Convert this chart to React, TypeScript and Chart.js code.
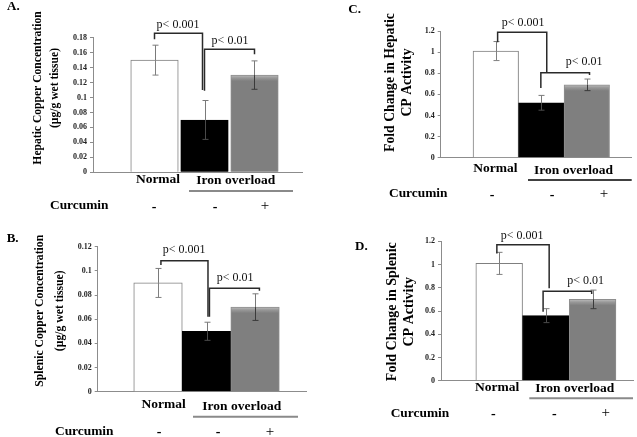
import { useEffect, useRef } from 'react';
import { Chart, registerables } from 'chart.js';

Chart.register(...registerables);

const W = 637;
const H = 437;
const SERIF = '"Liberation Serif", "Times New Roman", serif';

// x positions of the three groups: Normal, Iron overload (curcumin -), Iron overload (curcumin +)
const groupX = [1, 2, 3];
const groupNames = ['Normal', 'Iron overload'];
const curcuminSigns = ['-', '-', '+'];

// A. Hepatic copper concentration (µg/g wet tissue)
const hepaticCopper = [0.15, 0.07, 0.13];
const hepaticCopperErr = [0.02, 0.026, 0.019];
// B. Splenic copper concentration (µg/g wet tissue)
const splenicCopper = [0.09, 0.05, 0.07];
const splenicCopperErr = [0.012, 0.0075, 0.011];
// C. Fold change in hepatic CP activity
const hepaticCP = [1.01, 0.52, 0.69];
const hepaticCPErr = [0.09, 0.07, 0.055];
// D. Fold change in splenic CP activity
const splenicCP = [1.01, 0.56, 0.7];
const splenicCPErr = [0.095, 0.06, 0.08];

type Bracket = {
  from: number; to: number; y: number; yFrom: number; yTo: number;
  label: string; labelX: number; labelY: number;
};

const bracketsA: Bracket[] = [
  { from: 1, to: 1.96, y: 0.186, yFrom: 0.178, yTo: 0.11, label: 'p< 0.001', labelX: 1.47, labelY: 0.197 },
  { from: 2, to: 3, y: 0.1644, yFrom: 0.109, yTo: 0.158, label: 'p< 0.01', labelX: 2.51, labelY: 0.176 },
];
const bracketsB: Bracket[] = [
  { from: 1.06, to: 2.03, y: 0.1084, yFrom: 0.1049, yTo: 0.0621, label: 'p< 0.001', labelX: 1.54, labelY: 0.1173 },
  { from: 2.06, to: 3.09, y: 0.0856, yFrom: 0.0621, yTo: 0.0836, label: 'p< 0.01', labelX: 2.59, labelY: 0.0941 },
];
const bracketsC: Bracket[] = [
  { from: 1.04, to: 2.12, y: 1.1875, yFrom: 1.093, yTo: 0.805, label: 'p< 0.001', labelX: 1.6, labelY: 1.278 },
  { from: 1.99, to: 3.06, y: 0.805, yFrom: 0.66, yTo: 0.783, label: 'p< 0.01', labelX: 2.94, labelY: 0.909 },
];
const bracketsD: Bracket[] = [
  { from: 0.95, to: 2.07, y: 1.17, yFrom: 1.096, yTo: 0.795, label: 'p< 0.001', labelX: 1.49, labelY: 1.248 },
  { from: 1.94, to: 2.98, y: 0.769, yFrom: 0.594, yTo: 0.746, label: 'p< 0.01', labelX: 2.85, labelY: 0.861 },
];

type PanelCfg = {
  key: string;
  values: number[];
  errors: number[];
  brackets: Bracket[];
  yMax: number; yStep: number; xMin: number; xMax: number;
  area: { left: number; top: number; right: number; bottom: number };
  title: string[]; titleX: number[]; titleY: number; titleSize: number;
  letter: { x: number; y: number };
  normal: { x: number; y: number };
  iron: { x: number; y: number };
  underline: { x1: number; x2: number; y: number; color: string; w: number };
  curcumin: { x: number; y: number };
  signX: number[];
};

const panels: PanelCfg[] = [
  {
    key: 'A', values: hepaticCopper, errors: hepaticCopperErr, brackets: bracketsA,
    yMax: 0.18, yStep: 0.02, xMin: -0.23, xMax: 3.95,
    area: { left: 93, top: 37.7, right: 302, bottom: 172.3 },
    title: ['Hepatic Copper Concentration', '(µg/g wet tissue)'], titleX: [38, 55], titleY: 88, titleSize: 11.6,
    letter: { x: 7, y: 7 },
    normal: { x: 158, y: 180 }, iron: { x: 235.8, y: 181 },
    underline: { x1: 189, x2: 293, y: 191, color: '#8a8a8a', w: 2 },
    curcumin: { x: 50, y: 206 }, signX: [154, 215, 265],
  },
  {
    key: 'B', values: splenicCopper, errors: splenicCopperErr, brackets: bracketsB,
    yMax: 0.12, yStep: 0.02, xMin: -0.243, xMax: 4.05,
    area: { left: 97.7, top: 246.7, right: 306, bottom: 391.7 },
    title: ['Splenic Copper Concentration', '(µg/g wet tissue)'], titleX: [40, 60], titleY: 310.8, titleSize: 11.7,
    letter: { x: 6.7, y: 239 },
    normal: { x: 163.7, y: 405 }, iron: { x: 241.8, y: 406.7 },
    underline: { x1: 193, x2: 298, y: 416.7, color: '#8a8a8a', w: 2 },
    curcumin: { x: 55, y: 431.7 }, signX: [159, 218, 270],
  },
  {
    key: 'C', values: hepaticCP, errors: hepaticCPErr, brackets: bracketsC,
    yMax: 1.2, yStep: 0.2, xMin: -0.211, xMax: 3.987,
    area: { left: 440.7, top: 31, right: 631.7, bottom: 157.7 },
    title: ['Fold Change in Hepatic', 'CP Activity'], titleX: [390.7, 407.7], titleY: 82.5, titleSize: 13.7,
    letter: { x: 348.3, y: 10 },
    normal: { x: 495.3, y: 169 }, iron: { x: 573.5, y: 170.5 },
    underline: { x1: 528, x2: 631.7, y: 180, color: '#000000', w: 1.5 },
    curcumin: { x: 389, y: 194 }, signX: [492, 552, 604],
  },
  {
    key: 'D', values: splenicCP, errors: splenicCPErr, brackets: bracketsD,
    yMax: 1.2, yStep: 0.2, xMin: -0.246, xMax: 3.865,
    area: { left: 441, top: 241.3, right: 633, bottom: 380.7 },
    title: ['Fold Change in Splenic', 'CP Activity'], titleX: [392.7, 409], titleY: 311.7, titleSize: 14,
    letter: { x: 355, y: 246.7 },
    normal: { x: 497.2, y: 387.7 }, iron: { x: 574.7, y: 389 },
    underline: { x1: 529.3, x2: 633, y: 398.3, color: '#8a8a8a', w: 2 },
    curcumin: { x: 390.7, y: 413.3 }, signX: [493.3, 554.3, 605.7],
  },
];

const insideErrColor = ['#808080', '#4a4a4a', '#3a3a3a'];

function makeOverlay(p: PanelCfg) {
  return {
    id: 'overlay' + p.key,
    afterDraw(chart: any) {
      const ctx: CanvasRenderingContext2D = chart.ctx;
      const xs = chart.scales.x;
      const ys = chart.scales.y;
      ctx.save();

      // error bars
      ctx.lineWidth = 1;
      p.values.forEach((v, i) => {
        const x = Math.round(xs.getPixelForValue(groupX[i])) + 0.5;
        const yT = ys.getPixelForValue(v + p.errors[i]);
        const yM = ys.getPixelForValue(v);
        const yB = ys.getPixelForValue(v - p.errors[i]);
        ctx.strokeStyle = '#7a7a7a';
        ctx.beginPath();
        ctx.moveTo(x, yT); ctx.lineTo(x, yM);
        ctx.moveTo(x - 3, yT); ctx.lineTo(x + 3, yT);
        ctx.stroke();
        ctx.strokeStyle = insideErrColor[i];
        ctx.beginPath();
        ctx.moveTo(x, yM); ctx.lineTo(x, yB);
        ctx.moveTo(x - 3, yB); ctx.lineTo(x + 3, yB);
        ctx.stroke();
      });

      // significance brackets
      ctx.strokeStyle = '#2a2a2a';
      ctx.lineWidth = 1.5;
      ctx.fillStyle = '#111';
      ctx.font = `12px ${SERIF}`;
      ctx.textAlign = 'center';
      ctx.textBaseline = 'middle';
      p.brackets.forEach((b) => {
        const x1 = xs.getPixelForValue(b.from);
        const x2 = xs.getPixelForValue(b.to);
        const y = ys.getPixelForValue(b.y);
        ctx.beginPath();
        ctx.moveTo(x1, ys.getPixelForValue(b.yFrom));
        ctx.lineTo(x1, y);
        ctx.lineTo(x2, y);
        ctx.lineTo(x2, ys.getPixelForValue(b.yTo));
        ctx.stroke();
        ctx.fillText(b.label, xs.getPixelForValue(b.labelX), ys.getPixelForValue(b.labelY));
      });

      // panel letter
      ctx.fillStyle = '#000';
      ctx.textAlign = 'left';
      ctx.font = `bold 13px ${SERIF}`;
      ctx.fillText(p.key + '.', p.letter.x, p.letter.y);

      // y axis title (rotated, two lines)
      ctx.textAlign = 'center';
      ctx.font = `bold ${p.titleSize}px ${SERIF}`;
      p.title.forEach((t, i) => {
        ctx.save();
        ctx.translate(p.titleX[i], p.titleY);
        ctx.rotate(-Math.PI / 2);
        ctx.fillText(t, 0, 0);
        ctx.restore();
      });

      // group labels
      ctx.font = `bold 13.5px ${SERIF}`;
      ctx.fillText(groupNames[0], p.normal.x, p.normal.y);
      ctx.fillText(groupNames[1], p.iron.x, p.iron.y);

      // underline for iron overload
      ctx.strokeStyle = p.underline.color;
      ctx.lineWidth = p.underline.w;
      ctx.beginPath();
      ctx.moveTo(p.underline.x1, p.underline.y);
      ctx.lineTo(p.underline.x2, p.underline.y);
      ctx.stroke();

      // curcumin row
      ctx.textAlign = 'left';
      ctx.font = `bold 13.4px ${SERIF}`;
      ctx.fillText('Curcumin', p.curcumin.x, p.curcumin.y);
      ctx.textAlign = 'center';
      curcuminSigns.forEach((s, i) => {
        ctx.font = s === '+' ? `15px ${SERIF}` : `bold 14px ${SERIF}`;
        ctx.fillText(s, p.signX[i], p.curcumin.y + (s === '+' ? 0 : 1));
      });

      ctx.restore();
    },
  };
}

function Panel({ p }: { p: PanelCfg }) {
  const ref = useRef<HTMLCanvasElement>(null);
  useEffect(() => {
    const canvas = ref.current;
    if (!canvas) return;
    const yAxisW = 40;
    const chart = new Chart(canvas, {
      type: 'bar',
      data: {
        datasets: [
          {
            data: p.values.map((v, i) => ({ x: groupX[i], y: v })),
            backgroundColor: (c: any) => {
              const i = c.dataIndex;
              if (i === 0) return '#ffffff';
              if (i === 1) return '#000000';
              const ch = c.chart;
              const ys = ch.scales && ch.scales.y;
              if (i !== 2 || !ys || !ch.chartArea) return '#808080';
              const top = ys.getPixelForValue(p.values[i]);
              const g = ch.ctx.createLinearGradient(0, top, 0, top + 6);
              g.addColorStop(0, '#bdbdbd');
              g.addColorStop(0.45, '#999999');
              g.addColorStop(1, '#7f7f7f');
              return g;
            },
            borderColor: ['#7f7f7f', '#000000', '#8e8e8e'],
            borderWidth: 1,
            barPercentage: 1,
            categoryPercentage: 1,
          } as any,
        ],
      },
      options: {
        responsive: false,
        animation: false,
        events: [],
        layout: {
          padding: {
            left: p.area.left - yAxisW,
            right: W - p.area.right,
            top: p.area.top,
            bottom: H - p.area.bottom,
          },
        },
        plugins: { legend: { display: false }, tooltip: { enabled: false } },
        scales: {
          x: {
            type: 'linear',
            min: p.xMin,
            max: p.xMax,
            offset: false,
            ticks: { display: false },
            grid: { display: false, offset: false },
            border: { display: true, color: '#8c8c8c', width: 1 },
            afterFit: (s: any) => { s.height = 0; },
          },
          y: {
            min: 0,
            max: p.yMax,
            ticks: {
              stepSize: p.yStep,
              padding: 3,
              color: '#222',
              font: { family: SERIF, size: 8, weight: 'bold' },
              callback: (v: any) => String(+Number(v).toFixed(4)),
            },
            grid: { display: true, drawOnChartArea: false, tickLength: 3, color: '#8c8c8c' },
            border: { display: true, color: '#8c8c8c', width: 1 },
            afterFit: (s: any) => { s.width = yAxisW; },
          },
        },
      } as any,
      plugins: [makeOverlay(p)],
    });
    return () => chart.destroy();
  }, [p]);
  return (
    <canvas
      ref={ref}
      width={W}
      height={H}
      style={{ position: 'absolute', left: 0, top: 0, width: W, height: H, pointerEvents: 'none' }}
    />
  );
}

export default function App() {
  return (
    <div style={{ position: 'fixed', left: 0, top: 0, width: W, height: H, background: '#ffffff', overflow: 'hidden' }}>
      {panels.map((p) => (
        <Panel key={p.key} p={p} />
      ))}
    </div>
  );
}
